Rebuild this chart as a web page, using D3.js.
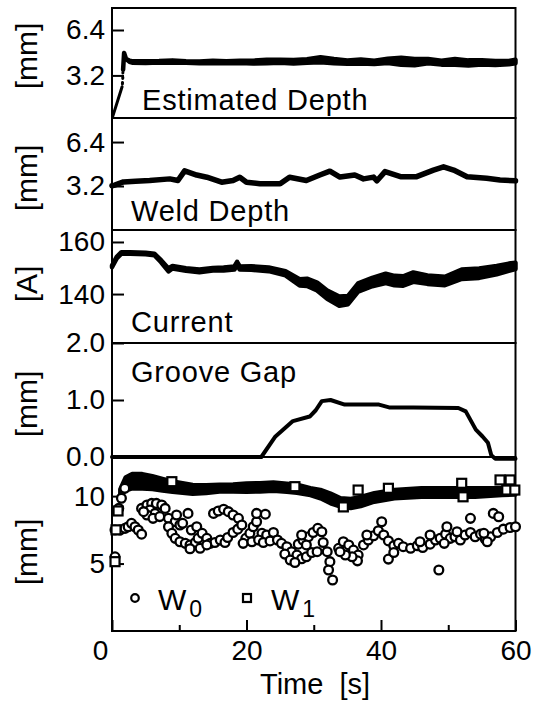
<!DOCTYPE html>
<html><head><meta charset="utf-8">
<script src="https://cdn.jsdelivr.net/npm/d3@7"></script>
<style>
html,body{margin:0;padding:0;background:#fff;}
svg{display:block;font-family:"Liberation Sans",Arial,Helvetica,sans-serif;}
</style></head><body>
<svg id="chart" width="540" height="704"></svg>
<script>
// ---------------- DATA ----------------
// time axis
const xTicks = [0, 20, 40, 60];
const xMinorTicks = [10, 30, 50];

// Panel 1: Estimated Depth [mm]
const estTicks = [3.2, 6.4];
const estRiseT = [0.1, 1.5];
const estRiseV = [0.3, 2.4];
const estDotT = [1.55, 1.6, 1.62];
const estDotV = [2.6, 3.0, 3.4];
const estT = [1.65, 1.8, 2.1, 2.6, 3, 5, 7, 9, 11, 13, 15, 17, 19, 21, 23, 25, 27, 29, 31, 33, 35, 37, 39, 41, 43, 45, 47, 49, 51, 53, 55, 57, 59, 60];
const estV = [3.6, 4.78, 4.35, 4.2, 4.15, 4.13, 4.16, 4.18, 4.14, 4.12, 4.15, 4.12, 4.16, 4.14, 4.18, 4.2, 4.16, 4.22, 4.3, 4.2, 4.14, 4.18, 4.12, 4.22, 4.2, 4.14, 4.2, 4.1, 4.15, 4.08, 4.12, 4.08, 4.1, 4.18];
const estH = [0, 0, 0, 0.04, 0.05, 0.06, 0.05, 0.08, 0.05, 0.06, 0.08, 0.07, 0.08, 0.1, 0.12, 0.1, 0.12, 0.12, 0.18, 0.15, 0.12, 0.14, 0.12, 0.15, 0.25, 0.22, 0.15, 0.14, 0.2, 0.18, 0.15, 0.14, 0.12, 0.12];

// Panel 2: Weld Depth [mm]
const wdTicks = [3.2, 6.4];
const wdT = [0, 0.4, 1.7, 3.5, 5.6, 8.6, 9.8, 10.8, 12.6, 14.1, 16.3, 18, 19, 20, 22, 25, 26.4, 28.9, 30.9, 32.4, 33.9, 36.1, 37.4, 38.9, 39.4, 40.6, 42.9, 45.3, 47.8, 49.3, 50.8, 52.8, 55.7, 57.7, 60];
const wdV = [3.22, 3.27, 3.5, 3.55, 3.6, 3.72, 3.6, 4.3, 4.0, 3.84, 3.48, 3.6, 3.84, 3.48, 3.36, 3.36, 3.84, 3.6, 4.0, 4.28, 3.85, 4.0, 3.72, 3.85, 3.58, 4.25, 3.88, 3.88, 4.36, 4.6, 4.36, 3.88, 3.76, 3.64, 3.58];

// Panel 3: Current [A]
const curTicks = [140, 160];
const curT = [0, 0.7, 1.4, 2.7, 5, 6.3, 7.3, 8.0, 8.4, 9, 11, 13, 15, 16.6, 18.2, 18.6, 19, 20.7, 23.3, 25.8, 27.9, 29, 30.5, 32, 33.8, 35.1, 36.6, 38.7, 40.7, 42, 43.3, 44.8, 46.9, 49.5, 52, 54.6, 57.2, 59, 60];
const curV = [150.6, 154, 155.8, 155.8, 155.6, 155.2, 152.6, 150.5, 149.3, 150.3, 149.4, 148.9, 149.5, 149.6, 150.0, 151.8, 150, 150, 149.5, 148, 144.5, 144.5, 142.9, 139.8, 137.3, 137.7, 142.5, 144.6, 146, 145.2, 145, 146.5, 145.5, 145, 147.6, 148, 149.2, 150.3, 150.8];
const curH = [0.3, 0.3, 0.3, 0.3, 0.3, 0.3, 0.4, 0.5, 0.6, 0.5, 0.5, 0.5, 0.5, 0.6, 0.6, 0.6, 0.6, 0.7, 0.7, 0.8, 1.2, 1.4, 1.5, 1.6, 1.8, 1.6, 1.6, 1.6, 1.8, 1.8, 1.8, 1.8, 1.6, 1.6, 1.8, 1.8, 1.6, 1.4, 1.2];

// Panel 4: Groove Gap [mm]
const ggTicks = [0, 1, 2];
const ggT = [0, 22.2, 24.3, 26.9, 29.4, 30.3, 31.2, 32.5, 34.6, 39.7, 41.2, 44.8, 51.5, 52.6, 54.1, 55.1, 55.9, 56.4, 57, 60];
const ggV = [0, 0, 0.36, 0.63, 0.71, 0.82, 0.98, 1.0, 0.92, 0.92, 0.87, 0.87, 0.86, 0.8, 0.48, 0.36, 0.25, 0.03, -0.03, -0.03];

// Panel 5: widths W0 (circles) and W1 (squares) [mm]
const wTicks = [5, 10];
const w1T = [1.2, 2, 3, 4.5, 6, 7.5, 9, 10.5, 12, 14, 16, 18, 20, 22, 24, 26, 27.5, 29.5, 31, 32.5, 34, 35.5, 37, 39, 42, 46, 50, 54, 58, 60];
const w1V = [10.2, 10.9, 11.1, 11.1, 11.0, 10.85, 10.7, 10.6, 10.5, 10.52, 10.6, 10.6, 10.63, 10.65, 10.7, 10.62, 10.55, 10.33, 10.15, 9.83, 9.53, 9.45, 9.6, 9.9, 10.15, 10.27, 10.27, 10.27, 10.33, 10.4];
const w1H = [0.3, 0.5, 0.55, 0.55, 0.5, 0.45, 0.4, 0.37, 0.34, 0.3, 0.27, 0.28, 0.33, 0.32, 0.32, 0.32, 0.32, 0.27, 0.33, 0.38, 0.33, 0.35, 0.35, 0.33, 0.33, 0.33, 0.33, 0.33, 0.27, 0.3];
const w1xT = [0.45, 0.6, 0.9, 8.9, 27.2, 34.4, 36.6, 41.1, 52.0, 52.2, 57.7, 59.2, 58.7, 59.9];
const w1xV = [5.14, 7.5, 8.9, 11.07, 10.7, 9.2, 10.45, 10.58, 10.95, 9.95, 11.2, 11.2, 10.45, 10.45];
const w0T = [0.45, 1.19, 1.93, 2.4, 2.9, 3.42, 3.9, 4.4, 1.0, 1.4, 1.9, 0.45, 4.4, 5.2, 5.9, 6.6, 7.4, 7.9, 5.65, 6.4,
  5.2, 6.1, 7.1, 8.4, 4.7, 9.4, 10.1, 11.3, 10.5, 9.6, 8.4, 8.9, 9.4, 10.1, 10.9, 11.6, 12.4, 12.8, 11.8, 12.6,
  13.4, 14.1, 14.6, 15.3, 16.1, 16.8, 17.2, 18.0, 18.7, 11.6, 13.1, 14.1, 15.1, 15.8, 16.6, 17.3, 18.0, 18.8, 19.3, 19.9,
  20.5, 21.0, 21.5, 21.5, 22.8, 22.3, 23.0, 24.0, 19.5, 20.8, 21.8, 22.5, 23.5, 24.6, 25.2, 26.0, 26.7, 27.5, 28.2, 28.9,
  29.7, 30.5, 25.7, 26.5, 27.2, 27.7, 28.4, 29.2, 29.9, 30.6, 31.2, 31.4, 28.2, 28.9, 32.0, 32.4, 32.2, 32.8, 33.7, 34.4,
  35.2, 35.9, 36.6, 36.5, 35.7, 34.7, 33.9, 37.4, 38.1, 38.9, 39.6, 40.4, 41.1, 41.9, 42.6, 40.1, 41.1, 41.9, 43.3, 37.9,
  44.4, 45.4, 46.2, 47.3, 48.1, 48.8, 49.6, 50.3, 51.0, 51.8, 52.5, 53.3, 54.0, 54.8, 55.5, 56.3, 57.3, 58.2, 59.2, 60,
  49.8, 47.3, 49.4, 51.3, 55.3, 56.7, 57.5, 53.3, 48.6, 45.8, 55.8];
const w0V = [7.49, 7.49, 7.61, 7.73, 7.98, 7.73, 7.49, 7.18, 9.09, 9.84, 10.58, 5.5, 9.09, 9.34, 9.46, 9.46, 9.34, 9.09, 8.97, 8.72,
  8.6, 8.35, 8.48, 8.35, 8.85, 8.1, 7.86, 8.72, 7.98, 8.6, 7.73, 7.24, 6.87, 6.62, 6.5, 6.38, 6.56, 6.87, 7.49, 7.73,
  7.24, 6.87, 6.5, 6.56, 6.75, 6.56, 6.93, 7.3, 7.55, 6.1, 6.13, 6.38, 8.72, 8.9, 9.03, 8.85, 8.6, 8.35, 7.86, 6.87,
  7.24, 7.73, 8.1, 8.72, 8.66, 7.24, 7.12, 7.3, 6.5, 6.62, 6.75, 6.56, 6.68, 6.75, 6.5, 6.25, 5.88, 5.63, 5.36, 5.5,
  5.82, 5.88, 5.7, 5.26, 5.08, 6.44, 6.75, 6.99, 7.3, 7.61, 7.36, 6.56, 7.12, 6.38, 5.88, 5.14, 4.52, 3.78, 6.13, 6.62,
  6.38, 6.0, 5.63, 5.2, 5.5, 5.63, 5.88, 6.38, 6.75, 7.06, 7.43, 7.12, 6.68, 6.32, 6.5, 8.1, 5.33, 5.82, 6.25, 7.12,
  6.13, 6.32, 6.19, 6.44, 6.75, 6.87, 7.18, 6.87, 6.99, 6.75, 7.12, 7.3, 6.99, 7.18, 6.81, 6.99, 7.3, 7.55, 7.67, 7.73,
  7.73, 7.12, 6.5, 7.36, 7.24, 8.72, 8.47, 8.35, 4.52, 6.62, 6.62];

// ---------------- LAYOUT ----------------
const svg = d3.select("#chart");
const X0 = 112, X1 = 515.5;
const x = d3.scaleLinear().domain([0, 60]).range([X0, X1]);

const panels = [
  {key: "est", top: 8, bottom: 118, domain: [0.2, 7.95], ticks: estTicks, fmt: d3.format(".1f"), unit: "[mm]", unitY: 56, title: "Estimated Depth", tx: 142, ty: 110},
  {key: "wd", top: 118, bottom: 230, domain: [0, 8.15], ticks: wdTicks, fmt: d3.format(".1f"), unit: "[mm]", unitY: 178, title: "Weld Depth", tx: 131, ty: 221},
  {key: "cur", top: 230, bottom: 343, domain: [121.2, 164.6], ticks: curTicks, fmt: d3.format("d"), unit: "[A]", unitY: 284, title: "Current", tx: 131, ty: 332},
  {key: "gg", top: 343, bottom: 457, domain: [0, 2], ticks: ggTicks, fmt: d3.format(".1f"), unit: "[mm]", unitY: 404, title: "Groove Gap", tx: 131, ty: 382},
  {key: "w", top: 457, bottom: 631, domain: [0, 12.9], ticks: wTicks, fmt: d3.format("d"), unit: "[mm]", unitY: 552, title: null}
];
panels.forEach(p => { p.y = d3.scaleLinear().domain(p.domain).range([p.bottom, p.top]); });
const P = Object.fromEntries(panels.map(p => [p.key, p]));

const zip = (t, v) => t.map((d, i) => [d, v[i]]);
const zip3 = (t, v, h) => t.map((d, i) => [d, v[i], h[i]]);

// frames
panels.forEach(p => {
  svg.append("rect").attr("x", X0).attr("y", p.top).attr("width", X1 - X0).attr("height", p.bottom - p.top)
    .attr("fill", "none").attr("stroke", "#000").attr("stroke-width", 2);
});

// y axes
panels.forEach(p => {
  const g = svg.append("g").attr("transform", `translate(${X0},0)`)
    .call(d3.axisLeft(p.y).tickValues(p.ticks).tickSizeInner(-12).tickSizeOuter(0).tickPadding(7).tickFormat(p.fmt));
  g.select(".domain").remove();
  g.selectAll(".tick line").attr("stroke", "#000").attr("stroke-width", 2);
  g.selectAll(".tick text").attr("fill", "#000").attr("font-size", 28).attr("font-family", "Liberation Sans, Arial, sans-serif");
  svg.append("text").attr("transform", `translate(37,${p.unitY}) rotate(-90)`).attr("text-anchor", "middle")
    .attr("font-size", 30).attr("fill", "#000").text(p.unit);
  if (p.title) {
    svg.append("text").attr("x", p.tx).attr("y", p.ty).attr("font-size", 29).attr("letter-spacing", 0.8)
      .attr("fill", "#000").text(p.title);
  }
});

// x axis
const gx = svg.append("g").attr("transform", `translate(0,${P.w.bottom})`)
  .call(d3.axisBottom(x).tickValues(xTicks).tickSizeInner(-11).tickSizeOuter(0).tickPadding(9).tickFormat(d3.format("d")));
gx.select(".domain").remove();
gx.selectAll(".tick line").attr("stroke", "#000").attr("stroke-width", 2);
gx.selectAll(".tick text").attr("fill", "#000").attr("font-size", 28).attr("font-family", "Liberation Sans, Arial, sans-serif")
  .attr("dx", d => d === 0 ? -12 : 0);
const gm = svg.append("g").attr("transform", `translate(0,${P.w.bottom})`)
  .call(d3.axisBottom(x).tickValues(xMinorTicks).tickSizeInner(-6).tickSizeOuter(0).tickFormat(""));
gm.select(".domain").remove();
gm.selectAll(".tick line").attr("stroke", "#000").attr("stroke-width", 2);

svg.append("text").attr("x", 260).attr("y", 694).attr("font-size", 29).attr("fill", "#000").text("Time\u00a0 [s]");

// helpers
function band(p, data, sw) {
  const a = d3.area().x(d => x(d[0])).y0(d => p.y(d[1] - d[2])).y1(d => p.y(d[1] + d[2]));
  svg.append("path").datum(data).attr("d", a).attr("fill", "#000").attr("stroke", "#000")
    .attr("stroke-width", sw).attr("stroke-linejoin", "round").attr("stroke-linecap", "round");
}
function line(p, data, sw, dash) {
  const l = d3.line().x(d => x(d[0])).y(d => p.y(d[1]));
  const path = svg.append("path").datum(data).attr("d", l).attr("fill", "none").attr("stroke", "#000")
    .attr("stroke-width", sw).attr("stroke-linejoin", "round").attr("stroke-linecap", "round");
  if (dash) path.attr("stroke-dasharray", dash);
}

// Panel 1
line(P.est, zip(estRiseT, estRiseV), 3);
line(P.est, zip(estDotT, estDotV), 3, "1.5,4");
band(P.est, zip3(estT, estV, estH), 4.5);

// Panel 2
line(P.wd, zip(wdT, wdV), 5.5);

// Panel 3
band(P.cur, zip3(curT, curV, curH), 4.5);

// Panel 4
line(P.gg, zip(ggT, ggV), 4);

// Panel 5
band(P.w, zip3(w1T, w1V, w1H), 4);
svg.append("g").selectAll("circle").data(zip(w0T, w0V)).join("circle")
  .attr("cx", d => x(d[0])).attr("cy", d => P.w.y(d[1])).attr("r", 4.4)
  .attr("fill", "#fff").attr("stroke", "#000").attr("stroke-width", 2.3);
svg.append("g").selectAll("rect").data(zip(w1xT, w1xV)).join("rect")
  .attr("x", d => x(d[0]) - 4.5).attr("y", d => P.w.y(d[1]) - 4.5).attr("width", 9).attr("height", 9)
  .attr("fill", "#fff").attr("stroke", "#000").attr("stroke-width", 2.2);

// legend
const lg = svg.append("g");
lg.append("circle").attr("cx", 135).attr("cy", 598).attr("r", 3.8).attr("fill", "#fff").attr("stroke", "#000").attr("stroke-width", 2.2);
const t0 = lg.append("text").attr("x", 158).attr("y", 610).attr("font-size", 30).attr("fill", "#000").text("W");
t0.append("tspan").attr("font-size", 23).attr("dx", 3).attr("dy", 7).text("0");
lg.append("rect").attr("x", 243).attr("y", 594).attr("width", 8).attr("height", 8).attr("fill", "#fff").attr("stroke", "#000").attr("stroke-width", 2.2);
const t1 = lg.append("text").attr("x", 271).attr("y", 610).attr("font-size", 30).attr("fill", "#000").text("W");
t1.append("tspan").attr("font-size", 23).attr("dx", 3).attr("dy", 7).text("1");
</script>
</body></html>
